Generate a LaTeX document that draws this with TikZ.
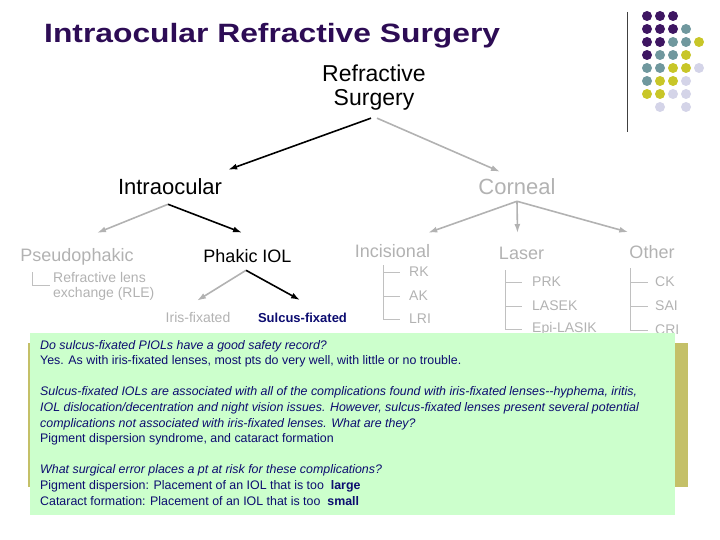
\documentclass[tikz,border=0pt]{standalone}
\usepackage{fontspec}
\setmainfont{Liberation Sans}
\newfontfamily\ttlfont[FakeStretch=1.2]{Liberation Sans}
\usetikzlibrary{arrows.meta}
\definecolor{ttlpurple}{RGB}{45,12,85}
\definecolor{dotP}{RGB}{62,22,98}
\definecolor{dotT}{RGB}{112,152,158}
\definecolor{dotY}{RGB}{200,198,40}
\definecolor{dotL}{RGB}{212,212,232}
\definecolor{dotN}{RGB}{255,255,255}
\definecolor{fadegray}{RGB}{178,178,178}
\definecolor{tickgray}{RGB}{192,192,192}
\definecolor{notegreen}{RGB}{204,255,204}
\definecolor{notenavy}{RGB}{12,12,112}
\definecolor{backolive}{RGB}{196,192,104}

\begin{document}
\begin{tikzpicture}[x=1pt,y=-1pt,>={Latex[length=9pt,width=6pt]}]
  \tikzstyle{lbl}=[inner sep=0pt]
  \tikzstyle{big}=[lbl,font=\fontsize{22}{24}\selectfont]
  \tikzstyle{mid}=[lbl,font=\fontsize{18}{20}\selectfont]
  \tikzstyle{sml}=[lbl,anchor=west,text=fadegray,font=\fontsize{14}{15}\selectfont]
  \tikzstyle{blk}=[draw=black,line width=1.6pt,->]
  \tikzstyle{gry}=[draw=fadegray,line width=1.6pt,->]
  \tikzstyle{tick}=[draw=tickgray,line width=0.8pt]
  \useasboundingbox (0,0) rectangle (720,540);
  % title and corner decoration
  \node[lbl,anchor=west,text=ttlpurple,font=\ttlfont\bfseries\fontsize{26.5}{30}\selectfont] (ttl) at (44,36) {Intraocular Refractive Surgery};
  \draw[black!75,line width=0.8pt] (627,12) -- (627,132);
  \foreach \r/\row in {1/{P,P,P},2/{P,P,P,T},3/{P,P,T,T,Y},4/{P,T,T,Y},5/{T,T,Y,Y,L},6/{T,Y,Y,L},7/{Y,Y,L,L},8/{N,L,N,L}}
    \foreach \col [count=\c] in \row
      \fill[dot\col] (634+13*\c,3+13*\r) circle[radius=5pt];
  % tree
  \node[big,align=center,font=\fontsize{23}{23.5}\selectfont] (rs) at (374,87.5) {Refractive\\Surgery};
  \node[big] (intra) at (170,187) {Intraocular};
  \node[big,text=fadegray] (corn) at (517,187) {Corneal};
  \node[mid,text=fadegray] (pseudo) at (77,257) {Pseudophakic};
  \node[mid] (phakic) at (247.5,256.5) {Phakic IOL};
  \node[sml,align=left,font=\fontsize{14}{15}\selectfont] (rle) at (53,286) {Refractive lens\\exchange (RLE)};
  \node[sml,anchor=center] (iris) at (198,317) {Iris-fixated};
  \node[lbl,text=notenavy,font=\bfseries\fontsize{13}{14}\selectfont] (sulcus) at (302.5,318) {Sulcus-fixated};
  \node[mid,text=fadegray] (incis) at (392.5,251.5) {Incisional};
  \node[mid,text=fadegray] (laser) at (521.5,253) {Laser};
  \node[mid,text=fadegray] (other) at (652,252) {Other};
  \node[sml] (rk) at (409,272) {RK};
  \node[sml] (ak) at (409,296) {AK};
  \node[sml] (lri) at (409,319) {LRI};
  \node[sml] (prk) at (532,282) {PRK};
  \node[sml] (lasek) at (532,306) {LASEK};
  \node[sml] (epilasik) at (532,329) {Epi-LASIK};
  \node[sml] (ck) at (655,282) {CK};
  \node[sml] (sai) at (655,306) {SAI};
  \node[sml] (cri) at (655,330) {CRI};
  \draw[blk] ([shift={(-3,8)}]rs.south) -- ([shift={(6,-9)}]intra.north east);
  \draw[gry] ([shift={(3,8)}]rs.south) -- ([shift={(-17,-7)}]corn.north);
  \draw[gry] ([shift={(-2,9)}]intra.south) -- ([shift={(20,-15.5)}]pseudo.north);
  \draw[blk] ([shift={(-2,9)}]intra.south) -- ([shift={(-5.5,-17)}]phakic.north);
  \draw[gry] ([shift={(-1.5,7)}]phakic.south) -- ([shift={(-1,-11)}]iris.north);
  \draw[blk] ([shift={(-1.5,7)}]phakic.south) -- ([shift={(-2.5,-13)}]sulcus.north);
  \draw[gry] ([shift={(0,6)}]corn.south) -- ([shift={(-2,-12)}]incis.north east);
  \draw[gry] ([shift={(0,6)}]corn.south) -- ([shift={(-4,-13.5)}]laser.north);
  \draw[gry] ([shift={(0,6)}]corn.south) -- ([shift={(-1,-13)}]other.north west);
  % sub-item brackets
  \coordinate (pseudo-t) at (32,272);
  \coordinate (incis-t) at (383,265);
  \coordinate (laser-t) at (505,270);
  \coordinate (other-t) at (630,268);
  \draw[tick] (pseudo-t) |- ([shift={(-3,-1)}]rle.west);
  \foreach \n in {rk,ak,lri}
    \draw[tick] (incis-t) |- ([shift={(-9,0)}]\n.west);
  \foreach \n in {prk,lasek,epilasik}
    \draw[tick] (laser-t) |- ([shift={(-10,0)}]\n.west);
  \foreach \n in {ck,sai,cri}
    \draw[tick] (other-t) |- ([shift={(-7,0)}]\n.west);
  % question box
  \fill[backolive] (28,343) rectangle (688,487);
  \fill[notegreen] (30,333) rectangle (675,515);
  \node[lbl,anchor=north west,align=left,text=notenavy,font=\fontsize{12.4}{15.6}\selectfont] (qa) at (40,340) {%
    \textit{Do sulcus-fixated PIOLs have a good safety record?}\\
    Yes. As with iris-fixated lenses, most pts do very well, with little or no trouble.\\
    ~\\
    \textit{Sulcus-fixated IOLs are associated with all of the complications found with iris-fixated lenses-{}-hyphema, iritis,}\\
    \textit{IOL dislocation/decentration and night vision issues. However, sulcus-fixated lenses present several potential}\\
    \textit{complications not associated with iris-fixated lenses. What are they?}\\
    Pigment dispersion syndrome, and cataract formation\\
    ~\\
    \textit{What surgical error places a pt at risk for these complications?}\\
    Pigment dispersion: Placement of an IOL that is too \ \textbf{large}\\
    Cataract formation: Placement of an IOL that is too \ \textbf{small}};
\end{tikzpicture}
\end{document}
